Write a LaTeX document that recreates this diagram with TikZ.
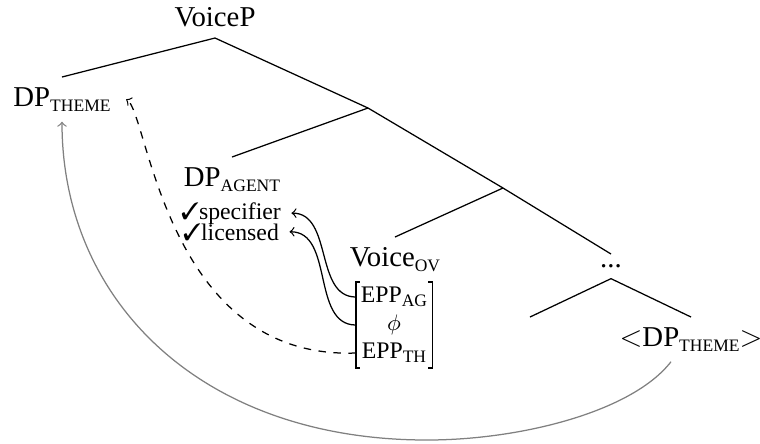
\documentclass[tikz,border=0pt]{standalone}
\usepackage{fontspec}
\setmainfont{Liberation Serif}
\usepackage{pifont}
\usetikzlibrary{positioning,calc}
\newcommand{\sub}[1]{\raisebox{-0.35ex}{\fontsize{7}{8}\selectfont #1}}
\newcommand{\ok}{\ding{51}}

\begin{document}
\begin{tikzpicture}[x=0.4pt,y=-0.4pt,line width=0.5pt,font=\fontsize{11.5}{13}\selectfont,
  lbl/.style={inner sep=4pt},
  feat/.style={inner sep=1pt,minimum width=30pt,font=\fontsize{9.5}{10}\selectfont},
  chk/.style={inner xsep=4pt,inner ysep=1pt,anchor=base,font=\fontsize{9.5}{10}\selectfont},
  move/.style={->,gray}]
\useasboundingbox (0,0) rectangle (760,443);
\node[lbl,anchor=south](voicep) at (215,38) {VoiceP};
\node[lbl,anchor=north](dptheme) at (62,77) {DP\sub{THEME}};
\coordinate (x_1) at (368,108);
\node[lbl,anchor=north](dpagent) at (232,157) {DP\sub{AGENT}};
\node[chk](spec) at (231,219) {\ok specifier};
\node[chk](lic) at (231,240) {\ok licensed};
\coordinate (x_2) at (503,188);
\node[lbl,anchor=north](voiceov) at (395,237) {Voice\sub{OV}};
\node[feat](eppag) at (394,297) {EPP\sub{AG}};
\node[feat](phi) at (394,325) {$\phi$};
\node[feat](eppth) at (394,353) {EPP\sub{TH}};
\node[lbl,anchor=north](dots) at (611,254) {...};
\coordinate (x_3) at (530,317);
\node[lbl,anchor=north](dplow) at (691,317) {$<$DP\sub{THEME}$>$};
\coordinate (low) at (427,440);

\draw (voicep.south) -- (dptheme.north);
\draw (voicep.south) -- (x_1) -- (x_2) -- (dots.north);
\draw (x_1) -- (dpagent.north);
\draw (x_2) -- (voiceov.north);
\draw (dots.south) -- (x_3);
\draw (dots.south) -- (dplow.north);

\draw ($(eppag.west)+(4,-15)$) -| ($(eppth.west)+(0,15)$) -- ++(4,0);
\draw ($(eppag.east)+(-4,-15)$) -| ($(eppth.east)+(0,15)$) -- ++(-4,0);

\draw[->] (eppag.west) to[out=180,in=0] (spec.east);
\draw[->] (phi.west) to[out=180,in=0] (lic.east);
\draw[->,dashed] (eppth.west) .. controls (165,360) and (148,112) .. ([xshift=2pt]dptheme.east);
\draw[move] ([xshift=-8pt]dplow.south) .. controls (632,412) and (520,440) .. (low)
  .. controls (200,440) and (62,300) .. (dptheme.south);
\end{tikzpicture}
\end{document}
